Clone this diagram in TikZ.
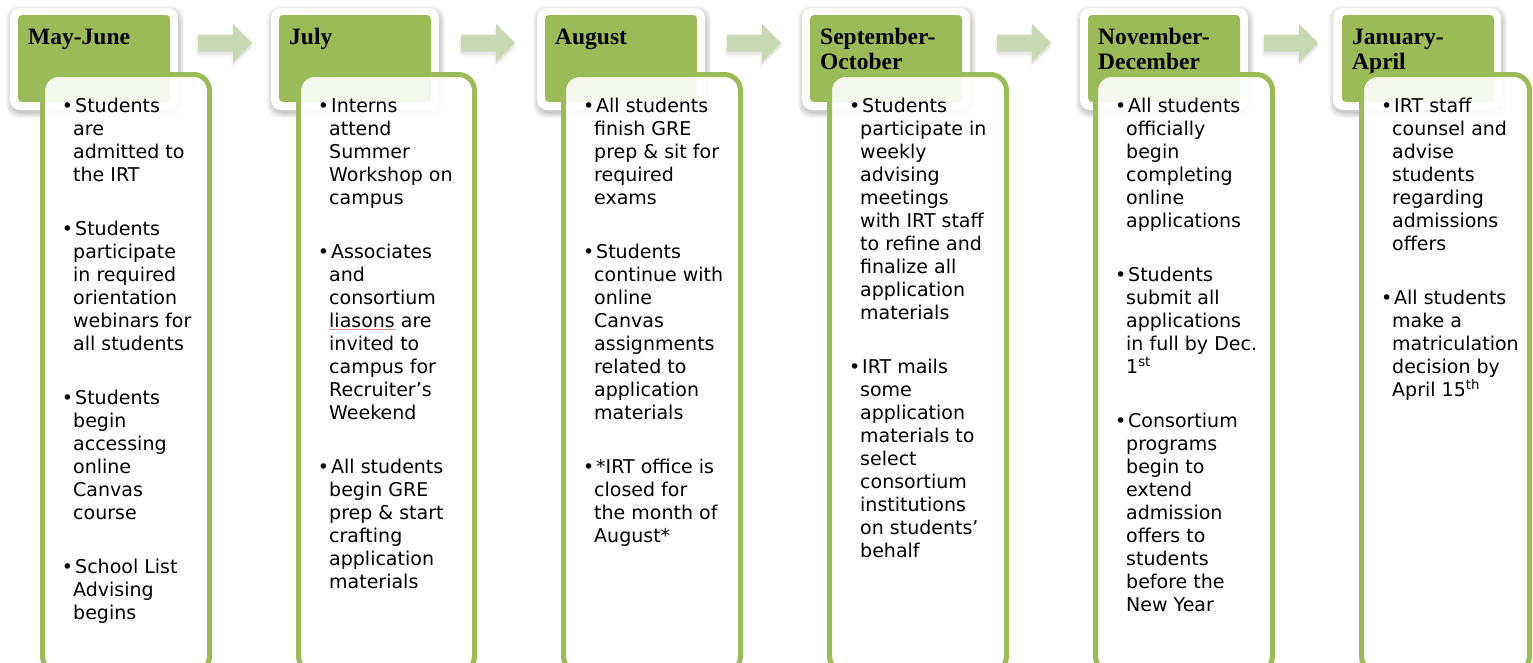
\documentclass[tikz,border=0pt]{standalone}
\usepackage{fontspec}
\newfontfamily\bodyf{DejaVu Sans}
\newfontfamily\headf{Liberation Serif}
\definecolor{olive}{HTML}{9BBB59}
\definecolor{arrowc}{HTML}{C8D8B3}
\definecolor{squig}{HTML}{F08A8A}

\newcommand\Bu[1]{\hbox{\llap{•}\kern2pt #1}}
\newcommand\Ln[1]{\hbox{#1}}
\newcommand\itemgap{\vskip31pt}
\newcommand\sqz[1]{\setbox0\hbox{#1}\rlap{\color{squig}\rule[-3pt]{\wd0}{1pt}}#1}
\newcommand\bodytext[1]{\vtop{\bodyf\fontsize{19}{23}\selectfont\baselineskip=23pt\lineskiplimit=-20pt #1}}
\newcommand\headtext[1]{\vtop{\headf\bfseries\fontsize{23.5}{25}\selectfont\baselineskip=25pt #1}}

\newcommand\softshadow[4]{%
  \foreach \s in {0,1,...,5}{%
    \fill[black, opacity=0.035, rounded corners=12pt] (#1-\s+1,#2-\s+3) rectangle (#3+\s+1,#4+\s+3);}}

% #1 outer left, #2 green left, #3 body left, #4 body right, #5 name, #6 header, #7 body
\newcommand\tlcol[7]{%
  \softshadow{#1}{8}{#1+168}{110}
  \fill[white, rounded corners=10pt] (#1,8) rectangle (#1+168,110);
  \fill[olive, rounded corners=4pt] (#2,15) rectangle (#2+152,102);
  \node[headlbl] (#5h) at (#2+10,44) {\headtext{#6}};
  \draw[bodybox] (#3+2.5,74.5) rectangle (#4-2.5,672);
  \node[bodylbl] (#5b) at (#3+33,112) {\bodytext{#7}};
}
\newcommand\tlarrow[1]{%
  \foreach \s in {0,1,2}{%
    \fill[black, opacity=0.03, rounded corners=2pt] (#1-\s,34.5-\s+3) -- (#1+35-\s,34.5-\s+3) -- (#1+35-\s,24-\s+3) -- (#1+54+\s,43+3) -- (#1+35-\s,62+\s+3) -- (#1+35-\s,51.5+\s+3) -- (#1-\s,51.5+\s+3) -- cycle;}
  \fill[arrowc] (#1,34.5) -- (#1+35,34.5) -- (#1+35,24) -- (#1+54,43) -- (#1+35,62) -- (#1+35,51.5) -- (#1,51.5) -- cycle;
}

\begin{document}
\begin{tikzpicture}[x=1pt,y=-1pt,
  headlbl/.style={anchor=base west, inner sep=0pt},
  bodylbl/.style={anchor=base west, inner sep=0pt},
  bodybox/.style={draw=olive, line width=5pt, fill=white, fill opacity=0.9, rounded corners=16pt}]
\useasboundingbox (0,0) rectangle (1533,662);
\fill[white] (0,0) rectangle (1533,662);

\tlarrow{198}
\tlarrow{461}
\tlarrow{727}
\tlarrow{997}
\tlarrow{1264}

\tlcol{10}{18}{40}{212}{c1}{\Ln{May-June}}{%
\Bu{Students}\Ln{are}\Ln{admitted to}\Ln{the IRT}\itemgap
\Bu{Students}\Ln{participate}\Ln{in required}\Ln{orientation}\Ln{webinars for}\Ln{all students}\itemgap
\Bu{Students}\Ln{begin}\Ln{accessing}\Ln{online}\Ln{Canvas}\Ln{course}\itemgap
\Bu{School List}\Ln{Advising}\Ln{begins}}

\tlcol{271}{279}{296}{477}{c2}{\Ln{July}}{%
\Bu{Interns}\Ln{attend}\Ln{Summer}\Ln{Workshop on}\Ln{campus}\itemgap
\Bu{Associates}\Ln{and}\Ln{consortium}\Ln{\sqz{liasons} are}\Ln{invited to}\Ln{campus for}\Ln{Recruiter’s}\Ln{Weekend}\itemgap
\Bu{All students}\Ln{begin GRE}\Ln{prep \& start}\Ln{crafting}\Ln{application}\Ln{materials}}

\tlcol{537}{545}{561}{743}{c3}{\Ln{August}}{%
\Bu{All students}\Ln{finish GRE}\Ln{prep \& sit for}\Ln{required}\Ln{exams}\itemgap
\Bu{Students}\Ln{continue with}\Ln{online}\Ln{Canvas}\Ln{assignments}\Ln{related to}\Ln{application}\Ln{materials}\itemgap
\Bu{*IRT office is}\Ln{closed for}\Ln{the month of}\Ln{August*}}

\tlcol{802}{810}{827}{1009}{c4}{\Ln{September-}\Ln{October}}{%
\Bu{Students}\Ln{participate in}\Ln{weekly}\Ln{advising}\Ln{meetings}\Ln{with IRT staff}\Ln{to refine and}\Ln{finalize all}\Ln{application}\Ln{materials}\itemgap
\Bu{IRT mails}\Ln{some}\Ln{application}\Ln{materials to}\Ln{select}\Ln{consortium}\Ln{institutions}\Ln{on students’}\Ln{behalf}}

\tlcol{1080}{1088}{1093}{1275}{c5}{\Ln{November-}\Ln{December}}{%
\Bu{All students}\Ln{officially}\Ln{begin}\Ln{completing}\Ln{online}\Ln{applications}\itemgap
\Bu{Students}\Ln{submit all}\Ln{applications}\Ln{in full by Dec.}\Ln{1\textsuperscript{st}}\itemgap
\Bu{Consortium}\Ln{programs}\Ln{begin to}\Ln{extend}\Ln{admission}\Ln{offers to}\Ln{students}\Ln{before the}\Ln{New Year}}

\tlcol{1333}{1342}{1359}{1532}{c6}{\Ln{January-}\Ln{April}}{%
\Bu{IRT staff}\Ln{counsel and}\Ln{advise}\Ln{students}\Ln{regarding}\Ln{admissions}\Ln{offers}\itemgap
\Bu{All students}\Ln{make a}\Ln{matriculation}\Ln{decision by}\Ln{April 15\textsuperscript{th}}}
\end{tikzpicture}
\end{document}
